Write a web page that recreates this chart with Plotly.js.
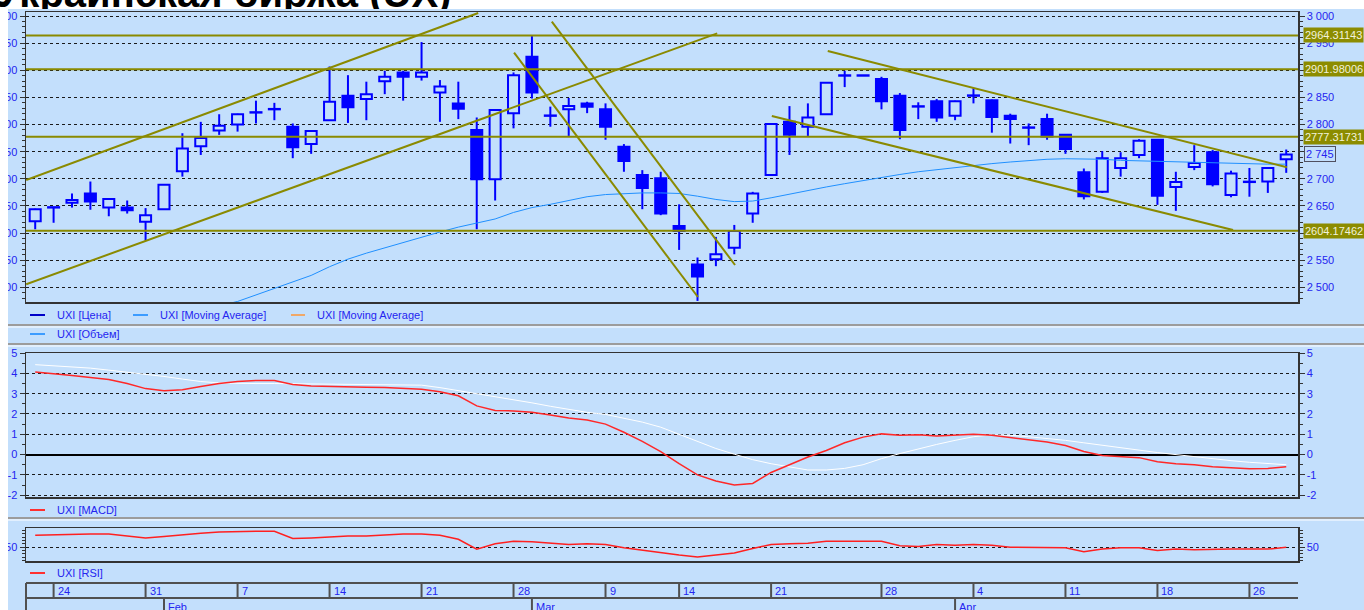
<!DOCTYPE html>
<html><head><meta charset="utf-8">
<script src="https://cdn.plot.ly/plotly-3.0.1.min.js"></script>
<style>
html,body{margin:0;padding:0;background:#fff;overflow:hidden;width:1364px;height:610px}
#chart{position:absolute;left:0;top:0;width:1364px;height:610px}
#leftmask{position:absolute;left:0;top:9px;width:8px;height:601px;background:#fff}
#titlebox{position:absolute;left:0;top:0;width:1364px;height:9px;overflow:hidden;background:#fff}
#titlebox span{position:absolute;left:-4px;top:-27px;font:bold 40px/40px "Liberation Sans",Arial,sans-serif;color:#000;white-space:nowrap}
</style></head>
<body>
<div id="chart"></div>
<div id="leftmask"></div>
<div id="titlebox"><span>Украинская биржа (UX)</span></div>
<script>
// ---------- data ----------
const dates = [
 "2011-01-21","2011-01-24","2011-01-25","2011-01-26","2011-01-27","2011-01-28","2011-01-31",
 "2011-02-01","2011-02-02","2011-02-03","2011-02-04","2011-02-07","2011-02-08","2011-02-09","2011-02-10","2011-02-11",
 "2011-02-14","2011-02-15","2011-02-16","2011-02-17","2011-02-18","2011-02-21","2011-02-22","2011-02-23","2011-02-24","2011-02-25","2011-02-28",
 "2011-03-01","2011-03-02","2011-03-03","2011-03-04","2011-03-09","2011-03-10","2011-03-11","2011-03-12",
 "2011-03-14","2011-03-15","2011-03-16","2011-03-17","2011-03-18","2011-03-21","2011-03-22","2011-03-23","2011-03-24","2011-03-25","2011-03-26",
 "2011-03-28","2011-03-29","2011-03-30","2011-03-31",
 "2011-04-01","2011-04-04","2011-04-05","2011-04-06","2011-04-07","2011-04-08","2011-04-11","2011-04-12","2011-04-13","2011-04-14","2011-04-15",
 "2011-04-18","2011-04-19","2011-04-20","2011-04-21","2011-04-22","2011-04-26","2011-04-27","2011-04-28"];
const opens  = [2622,2647,2656,2673,2647,2647,2621,2644,2714,2760, 2789,2800,2822,2828,2796,2764,2808,2853,2847,2880, 2896,2888,2859,2839,2790,2699,2821,2925,2816,2828, 2839,2828,2759,2707,2701,2613,2542,2552,2573,2636, 2707,2805,2796,2819,2890,2890,2884,2853,2833,2843, 2816,2853,2845,2816,2794,2810,2781,2712,2676,2720, 2744,2772,2685,2722,2749,2670,2694,2695,2736];
const highs  = [2645,2648,2673,2695,2663,2660,2646,2690,2784,2805, 2819,2820,2844,2840,2802,2789,2907,2891,2879,2899, 2899,2952,2882,2879,2813,2828,2896,2963,2833,2849, 2842,2839,2764,2716,2713,2653,2555,2593,2615,2676, 2802,2834,2839,2878,2899,2890,2888,2858,2841,2847, 2844,2867,2846,2820,2802,2820,2782,2719,2751,2749, 2773,2773,2713,2762,2753,2715,2720,2721,2754];
const lows   = [2607,2619,2647,2643,2631,2636,2586,2643,2704,2744, 2781,2787,2802,2808,2738,2746,2807,2803,2808,2856, 2844,2881,2805,2810,2607,2660,2793,2848,2796,2779, 2821,2772,2713,2644,2633,2569,2475,2539,2561,2619, 2706,2744,2779,2818,2869,2890,2828,2773,2810,2805, 2808,2839,2785,2765,2762,2772,2746,2662,2674,2704, 2738,2652,2641,2716,2686,2666,2667,2674,2711];
const closes = [2644,2647,2661,2658,2663,2642,2633,2689,2756,2775, 2798,2819,2822,2828,2758,2788,2842,2832,2856,2888, 2888,2896,2870,2829,2699,2827,2891,2859,2816,2834, 2833,2796,2733,2683,2636,2604,2520,2561,2604,2673, 2801,2781,2813,2877,2890,2890,2843,2790,2833,2813, 2843,2853,2814,2810,2794,2778,2755,2668,2738,2738, 2770,2669,2694,2729,2690,2710,2694,2720,2745];
const movingAverage = [null,null,null,null,null,null,null,null,null,null, 2466,2474,2486,2498,2510,2522,2538,2552,2563,2573, 2582,2592,2602,2611,2618,2626,2638,2647,2653,2660, 2667,2671,2673,2674,2674,2673,2668,2662,2658,2659, 2665,2672,2678,2685,2691,2697,2703,2708,2713,2717, 2721,2724,2728,2731,2734,2736,2737,2737,2736,2734, 2733,2733,2732,2731,2730,2729,2728,2727,2727];
const macd = [4.07,4.0,3.9,3.8,3.7,3.5,3.25,3.15,3.2,3.35, 3.5,3.6,3.65,3.65,3.45,3.38,3.35,3.35,3.32,3.3, 3.27,3.22,3.1,2.9,2.4,2.17,2.15,2.08,1.95,1.8, 1.7,1.5,1.1,0.65,0.15,-0.45,-1.0,-1.3,-1.5,-1.42, -0.88,-0.5,-0.12,0.2,0.58,0.86,1.02,0.95,0.98,0.92, 0.95,1.0,0.95,0.85,0.75,0.62,0.45,0.15,-0.05,-0.1, -0.15,-0.35,-0.45,-0.5,-0.6,-0.65,-0.7,-0.68,-0.6];
const macdSignal = [4.43,4.38,4.33,4.26,4.16,4.06,3.97,3.85,3.72,3.6, 3.53,3.5,3.5,3.5,3.49,3.48,3.47,3.46,3.45,3.44, 3.43,3.42,3.3,3.15,3.0,2.88,2.72,2.55,2.38,2.22, 2.08,1.98,1.8,1.6,1.35,1.0,0.68,0.3,0.02,-0.25, -0.45,-0.62,-0.76,-0.76,-0.68,-0.5,-0.2,0.05,0.28,0.5, 0.7,0.88,0.97,0.95,0.88,0.8,0.7,0.58,0.45,0.35, 0.22,0.1,0.0,-0.12,-0.2,-0.3,-0.38,-0.45,-0.5];
const rsi = [68,69,70,70,70,67,64,66,69,71, 73,74,74,74,63,64,66,67,67,69, 70,70,68,62,47,55,59,58,56,54, 55,54,49,45,41,38,35,38,41,48, 54,55,56,59,59,59,59,52,51,54, 53,54,53,50,50,50,49,43,47,49, 49,45,47,46,47,47,47,47,50];
const levels = [2964.31143, 2901.98006, 2777.31731, 2604.17462];
// trend lines: start index, start price, end index, end price
const trendX0 = [-0.49, -0.49, 26.03, 28.08, 43.08, 40.04];
const trendP0 = [2697.8, 2505.6, 2932.4, 2989.5, 2935.5, 2815.7];
const trendX1 = [24.08, 37.07, 36.02, 38.04, 68.04, 65.11];
const trendP1 = [3005.5, 2968.1, 2482.2, 2541.2, 2721.2, 2605.7];
const priceTicks = [2500,2550,2600,2650,2700,2750,2800,2850,2900,2950,3000];
const macdTicks = [-2,-1,0,1,2,3,4,5];
const rsiTicks = [50];
const monthNames = ["Jan","Feb","Mar","Apr","May","Jun","Jul","Aug","Sep","Oct","Nov","Dec"];
const legendTop = ["UXI [Цена]","UXI [Moving Average]","UXI [Moving Average]"];
const legendVol = "UXI [Объем]";
const legendMacd = "UXI [MACD]";
const legendRsi = "UXI [RSI]";

// ---------- helpers ----------
const W=1364,H=610;
const X=px=>px/W, Y=py=>1-py/H;
const bg='#C3DFFC', blue='#0000FF', olive='#8A8A00', txtBlue='#2424F0', axc='#333333';
const N=dates.length, idx=dates.map((d,i)=>i);
const fmtK=v=>{const s=String(Math.round(v));return s.length>3? s.slice(0,s.length-3)+' '+s.slice(-3):s;};
const fmtNum=v=>v<0?'-'+fmtK(-v):fmtK(v);

const upX=[],upB=[],upH=[],dnX=[],dnB=[],dnH=[],wx=[],wy=[];
for(let i=0;i<N;i++){
  const o=opens[i],c=closes[i],lo=Math.min(o,c),hi=Math.max(o,c),h=Math.max(hi-lo,0.8);
  if(c>=o){upX.push(i);upB.push(lo);upH.push(h);} else {dnX.push(i);dnB.push(lo);dnH.push(h);}
  if(lows[i]<lo){wx.push(i,i,null);wy.push(lows[i],lo,null);}
  if(highs[i]>hi){wx.push(i,i,null);wy.push(hi,highs[i],null);}
}
const tx=[],ty=[];
for(let k=0;k<trendX0.length;k++){tx.push(trendX0[k],trendX1[k],null);ty.push(trendP0[k],trendP1[k],null);}

const traces=[
 {type:'bar',x:upX,y:upH,base:upB,width:0.6,marker:{color:bg,line:{color:blue,width:2}},xaxis:'x',yaxis:'y',hoverinfo:'skip'},
 {type:'bar',x:dnX,y:dnH,base:dnB,width:0.6,marker:{color:blue,line:{color:blue,width:2}},xaxis:'x',yaxis:'y',hoverinfo:'skip'},
 {type:'scatter',mode:'lines',x:wx,y:wy,line:{color:blue,width:2},xaxis:'x',yaxis:'y',hoverinfo:'skip'},
 {type:'scatter',mode:'lines',x:idx,y:movingAverage,line:{color:'#2090FF',width:1},xaxis:'x',yaxis:'y',hoverinfo:'skip'},
 {type:'scatter',mode:'lines',x:tx,y:ty,line:{color:olive,width:2},xaxis:'x',yaxis:'y',hoverinfo:'skip'},
 {type:'scatter',mode:'lines',x:idx,y:macdSignal,line:{color:'#FFFFFF',width:1},xaxis:'x2',yaxis:'y2',hoverinfo:'skip'},
 {type:'scatter',mode:'lines',x:idx,y:macd,line:{color:'#FF2828',width:1.5},xaxis:'x2',yaxis:'y2',hoverinfo:'skip'},
 {type:'scatter',mode:'lines',x:idx,y:rsi,line:{color:'#FF2020',width:1.5},xaxis:'x3',yaxis:'y3',hoverinfo:'skip'},
 // left-side mirror axes (same series, transparent) so the left scales are drawn
 {type:'scatter',mode:'lines',x:idx,y:closes,line:{width:0},opacity:0,xaxis:'x',yaxis:'y4',hoverinfo:'skip'},
 {type:'scatter',mode:'lines',x:idx,y:macd,line:{width:0},opacity:0,xaxis:'x2',yaxis:'y5',hoverinfo:'skip'},
 {type:'scatter',mode:'lines',x:idx,y:rsi,line:{width:0},opacity:0,xaxis:'x3',yaxis:'y6',hoverinfo:'skip'}
];

const xdom=[X(26),X(1298)], xr=[-0.5,68.64];
const tickFont={family:'Liberation Sans, Arial, sans-serif',size:11,color:txtBlue};
function xax(anchor){return {domain:xdom,range:xr,anchor:anchor,showticklabels:false,ticks:'',showgrid:false,zeroline:false,showline:true,mirror:true,linecolor:axc,linewidth:1.5,fixedrange:true};}
function yax(side,dom,range,ticks,minor,grid,extra){
  return Object.assign({domain:dom,range:range,side:side,tickmode:'array',tickvals:ticks,ticktext:ticks.map(fmtNum),ticks:'outside',ticklen:5,tickwidth:1,tickcolor:axc,
   tickfont:tickFont,showgrid:grid,gridcolor:'#1a1a1a',griddash:'dot',gridwidth:1,zeroline:false,showline:true,linecolor:axc,linewidth:1.5,
   minor:{tickmode:'linear',tick0:0,dtick:minor,ticks:'outside',ticklen:3,tickcolor:axc,tickwidth:1,showgrid:false},fixedrange:true},extra||{});
}
const domP=[Y(302),Y(12)], domM=[Y(497),Y(353)], domR=[Y(561),Y(528)];
const rP=[2473,3007.4], rM=[-2.09,5.005], rR=[29,79];

const layout={
 width:W,height:H,margin:{l:0,r:0,t:0,b:0},paper_bgcolor:bg,plot_bgcolor:bg,
 showlegend:false,hovermode:false,dragmode:false,barmode:'overlay',
 font:{family:'Liberation Sans, Arial, sans-serif',size:11,color:txtBlue},
 xaxis:xax('y'),xaxis2:Object.assign(xax('y2'),{matches:'x'}),xaxis3:Object.assign(xax('y3'),{matches:'x'}),
 yaxis:yax('right',domP,rP,priceTicks,10,true,{anchor:'x'}),
 yaxis2:yax('right',domM,rM,macdTicks,0.5,true,{anchor:'x2',zeroline:true,zerolinecolor:'#000',zerolinewidth:2}),
 yaxis3:yax('right',domR,rR,rsiTicks,5,true,{anchor:'x3'}),
 yaxis4:yax('left',domP,rP,priceTicks,10,false,{overlaying:'y',anchor:'x'}),
 yaxis5:yax('left',domM,rM,macdTicks,0.5,false,{overlaying:'y2',anchor:'x2'}),
 yaxis6:yax('left',domR,rR,rsiTicks,5,false,{overlaying:'y3',anchor:'x3'}),
 shapes:[],annotations:[]
};
const S=layout.shapes, A=layout.annotations;
function pline(x0,y0,x1,y1,color,width){S.push({type:'line',xref:'paper',yref:'paper',x0:X(x0),x1:X(x1),y0:Y(y0),y1:Y(y1),line:{color:color,width:width},layer:'above'});}
function ptext(x,y,t,anchor,font,extra){A.push(Object.assign({xref:'paper',yref:'paper',x:X(x),y:Y(y),text:t,showarrow:false,xanchor:anchor||'left',yanchor:'middle',font:font||tickFont},extra||{}));}

// separators
[325,344,518].forEach(y=>{pline(8,y,1364,y,'#9C9C9C',2);pline(8,y+2,1364,y+2,'#FFFFFF',1);});
// horizontal levels
levels.forEach(v=>{
  S.push({type:'line',xref:'x domain',yref:'y',x0:0,x1:1,y0:v,y1:v,line:{color:olive,width:2},layer:'above'});
  A.push({xref:'paper',yref:'y',x:X(1303),y:v,text:v.toFixed(5),showarrow:false,xanchor:'left',yanchor:'middle',
    bgcolor:'#8C8C00',borderpad:1,font:{family:'Liberation Sans, Arial, sans-serif',size:11,color:'#F2F2DA'}});
});
// last price box
A.push({xref:'paper',yref:'y',x:X(1304),y:closes[N-1],text:fmtK(closes[N-1]),showarrow:false,xanchor:'left',yanchor:'middle',
  bgcolor:bg,bordercolor:'#505060',borderwidth:1,borderpad:1,font:tickFont});
// legends
pline(30,315,45,315,'#0000C8',2); ptext(55,315,legendTop[0]);
pline(133,315,148,315,'#3C9CFF',2); ptext(158,315,legendTop[1]);
pline(291,315,305,315,'#F0A868',2); ptext(315,315,legendTop[2]);
pline(30,334,45,334,'#3C9CFF',2); ptext(55,334,legendVol);
pline(30,510,45,510,'#FF3030',2); ptext(55,510,legendMacd);
pline(30,573,45,573,'#FF3030',2); ptext(55,573,legendRsi);

// date strip
const dstripTop=583, dstripMid=598;
pline(26,dstripTop,1298,dstripTop,'#505050',2);
pline(26,dstripMid,1298,dstripMid,'#505050',2);
pline(26,dstripTop,26,610,'#505050',2);
const dObj=dates.map(s=>new Date(s+'T00:00:00Z'));
const dow=d=>(d.getUTCDay()+6)%7;
for(let i=1;i<N;i++){
  const d=dObj[i],p=dObj[i-1];
  const newWeek=(d-p)/864e5>=7 || dow(d)<=dow(p);
  if(newWeek){
    S.push({type:'line',xref:'x',yref:'paper',x0:i,x1:i,y0:Y(dstripTop),y1:Y(dstripMid),line:{color:'#505050',width:2},layer:'above'});
    A.push({xref:'x',yref:'paper',x:i,y:Y(590.5),xshift:2,text:String(d.getUTCDate()),showarrow:false,xanchor:'left',yanchor:'middle',font:tickFont});
  }
  if(d.getUTCMonth()!==p.getUTCMonth()){
    S.push({type:'line',xref:'x',yref:'paper',x0:i,x1:i,y0:Y(dstripMid),y1:Y(610),line:{color:'#505050',width:2},layer:'above'});
    A.push({xref:'x',yref:'paper',x:i,y:Y(599),xshift:2,text:monthNames[d.getUTCMonth()],showarrow:false,xanchor:'left',yanchor:'top',font:tickFont});
  }
}

Plotly.newPlot('chart',traces,layout,{staticPlot:true,displayModeBar:false});
</script>
</body></html>
